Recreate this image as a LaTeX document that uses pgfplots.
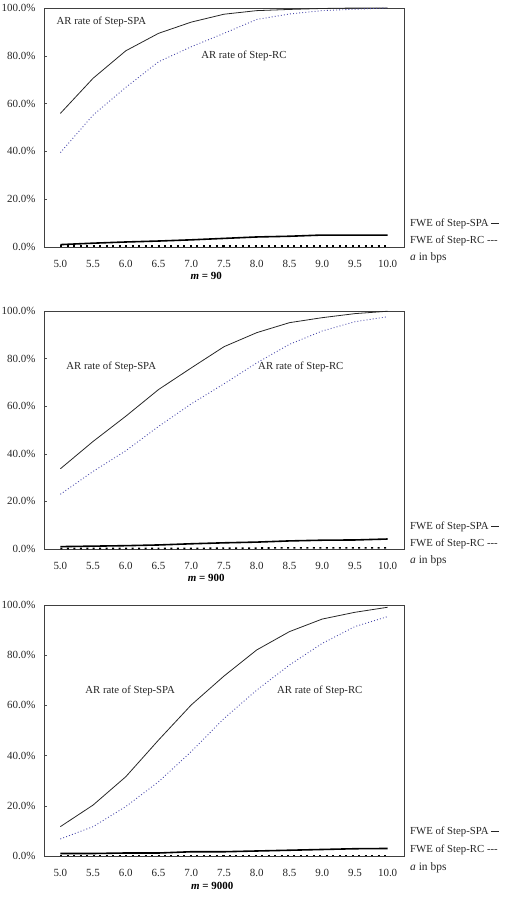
\documentclass[border=0pt]{standalone}
\usepackage{fontspec}
\setmainfont{Liberation Serif}
\usepackage{pgfplots}
\pgfplotsset{compat=1.18}
\definecolor{rcblue}{RGB}{70,70,170}
\tikzset{
  lab/.style={font=\fontsize{10.8}{12}\selectfont, text=black!85, anchor=west, inner sep=0pt},
  mlab/.style={font=\fontsize{11}{13}\selectfont\bfseries, inner sep=0pt},
}
\pgfplotsset{
  panel/.style={
    scale only axis, width=360bp,
    xmin=4.75, xmax=10.25, ymin=0, ymax=100,
    xtick={5,5.5,...,10},
    ytick={0,20,40,60,80,100},
    /pgf/number format/assume math mode=true,
    xticklabel={\pgfmathprintnumber[fixed,fixed zerofill,precision=1]{\tick}},
    yticklabel={\pgfmathprintnumber[fixed,fixed zerofill,precision=1]{\tick}\%},
    tick label style={font=\fontsize{11}{12}\selectfont, text=black!85},
    x tick style={draw=none},
    y tick style={black!70, line width=0.6pt},
    major tick length=3bp,
    tick align=inside,
    ytick pos=left,
    axis line style={black!75, line width=0.8pt},
    xticklabel style={inner sep=0pt, yshift=-13.5bp},
    yticklabel style={xshift=-5bp},
    clip=false,
  },
  spa/.style={black!85, line width=0.8pt},
  rc/.style={rcblue, dash pattern=on 0.9pt off 2.2pt, line width=0.9pt},
  fspa/.style={black, line width=1.6pt},
  frc/.style={black, line width=1.6pt, dash pattern=on 2pt off 4.5pt},
}
\newcommand{\dsh}{-{}-{}-}
\begin{document}
\begin{tikzpicture}
\path[use as bounding box] (0,0) rectangle (507bp,-898bp);
% ---- panel 1: m = 90
\begin{axis}[panel, height=239bp, at={(44bp,-247bp)}, anchor=south west]
\addplot[spa] coordinates {(5.0,55.9)(5.5,70.6)(6.0,82.1)(6.5,89.4)(7.0,94.1)(7.5,97.4)(8.0,98.9)(8.5,99.4)(9.0,99.8)(9.5,100)(10.0,100)};
\addplot[rc] coordinates {(5.0,39.5)(5.5,55.2)(6.0,66.8)(6.5,77.5)(7.0,83.8)(7.5,89.4)(8.0,95.2)(8.5,97.5)(9.0,98.9)(9.5,99.5)(10.0,100)};
\addplot[fspa] coordinates {(5.0,1.0)(5.5,1.6)(6.0,2.1)(6.5,2.5)(7.0,3.0)(7.5,3.6)(8.0,4.2)(8.5,4.5)(9.0,5.0)(9.5,5.0)(10.0,5.0)};
\addplot[frc] coordinates {(5.0,0.3)(5.5,0.3)(6.0,0.3)(6.5,0.3)(7.0,0.3)(7.5,0.3)(8.0,0.3)(8.5,0.3)(9.0,0.3)(9.5,0.3)(10.0,0.3)};
\node[lab] at (axis cs:4.94,94.1) {AR rate of Step-SPA};
\node[lab] at (axis cs:7.15,79.9) {AR rate of Step-RC};
\node[lab] at ([xshift=6bp,yshift=23bp]rel axis cs:1,0) {FWE of Step-SPA \rule[2.5pt]{8bp}{1.5pt}};
\node[lab] at ([xshift=6bp,yshift=6bp]rel axis cs:1,0) {FWE of Step-RC \dsh};
\node[lab, font=\fontsize{11.5}{13}\selectfont] at ([xshift=6bp,yshift=-11bp]rel axis cs:1,0) {\textit{a} in bps};
\node[mlab] at ([yshift=-29bp]axis cs:7.23,0) {\textit{m} = 90};
\end{axis}
% ---- panel 2: m = 900
\begin{axis}[panel, height=238bp, at={(44bp,-549bp)}, anchor=south west]
\addplot[spa] coordinates {(5.0,33.7)(5.5,45.2)(6.0,55.8)(6.5,67.0)(7.0,76.1)(7.5,85.0)(8.0,90.9)(8.5,95.1)(9.0,97.2)(9.5,98.9)(10.0,99.9)};
\addplot[rc] coordinates {(5.0,23.0)(5.5,32.6)(6.0,41.3)(6.5,51.5)(7.0,61.0)(7.5,69.4)(8.0,78.2)(8.5,86.0)(9.0,91.6)(9.5,95.5)(10.0,97.6)};
\addplot[fspa] coordinates {(5.0,1.0)(5.5,1.2)(6.0,1.4)(6.5,1.7)(7.0,2.2)(7.5,2.6)(8.0,2.9)(8.5,3.4)(9.0,3.7)(9.5,3.8)(10.0,4.2)};
\addplot[frc] coordinates {(5.0,0.2)(5.5,0.2)(6.0,0.2)(6.5,0.2)(7.0,0.2)(7.5,0.4)(8.0,0.4)(8.5,0.5)(9.0,0.5)(9.5,0.5)(10.0,0.5)};
\node[lab] at (axis cs:5.09,76.5) {AR rate of Step-SPA};
\node[lab] at (axis cs:8.02,76.5) {AR rate of Step-RC};
\node[lab] at ([xshift=6bp,yshift=22bp]rel axis cs:1,0) {FWE of Step-SPA \rule[2.5pt]{8bp}{1.5pt}};
\node[lab] at ([xshift=6bp,yshift=5bp]rel axis cs:1,0) {FWE of Step-RC \dsh};
\node[lab, font=\fontsize{11.5}{13}\selectfont] at ([xshift=6bp,yshift=-12bp]rel axis cs:1,0) {\textit{a} in bps};
\node[mlab] at ([yshift=-29bp]axis cs:7.23,0) {\textit{m} = 900};
\end{axis}
% ---- panel 3: m = 9000
\begin{axis}[panel, height=251bp, at={(44bp,-856bp)}, anchor=south west]
\addplot[spa] coordinates {(5.0,11.7)(5.5,20.3)(6.0,31.6)(6.5,46.2)(7.0,60.2)(7.5,71.7)(8.0,82.1)(8.5,89.4)(9.0,94.4)(9.5,97.1)(10.0,99.1)};
\addplot[rc] coordinates {(5.0,6.8)(5.5,11.7)(6.0,19.7)(6.5,29.6)(7.0,41.6)(7.5,54.8)(8.0,66.1)(8.5,76.1)(9.0,84.7)(9.5,91.4)(10.0,95.4)};
\addplot[fspa] coordinates {(5.0,1.0)(5.5,1.0)(6.0,1.2)(6.5,1.2)(7.0,1.7)(7.5,1.7)(8.0,2.0)(8.5,2.3)(9.0,2.6)(9.5,2.9)(10.0,3.0)};
\addplot[frc] coordinates {(5.0,0.2)(5.5,0.2)(6.0,0.2)(6.5,0.2)(7.0,0.2)(7.5,0.2)(8.0,0.2)(8.5,0.2)(9.0,0.2)(9.5,0.2)(10.0,0.2)};
\node[lab] at (axis cs:5.38,65.7) {AR rate of Step-SPA};
\node[lab] at (axis cs:8.31,65.7) {AR rate of Step-RC};
\node[lab] at ([xshift=6bp,yshift=24bp]rel axis cs:1,0) {FWE of Step-SPA \rule[2.5pt]{8bp}{1.5pt}};
\node[lab] at ([xshift=6bp,yshift=6bp]rel axis cs:1,0) {FWE of Step-RC \dsh};
\node[lab, font=\fontsize{11.5}{13}\selectfont] at ([xshift=6bp,yshift=-12bp]rel axis cs:1,0) {\textit{a} in bps};
\node[mlab] at ([yshift=-30bp]axis cs:7.32,0) {\textit{m} = 9000};
\end{axis}
\end{tikzpicture}
\end{document}
